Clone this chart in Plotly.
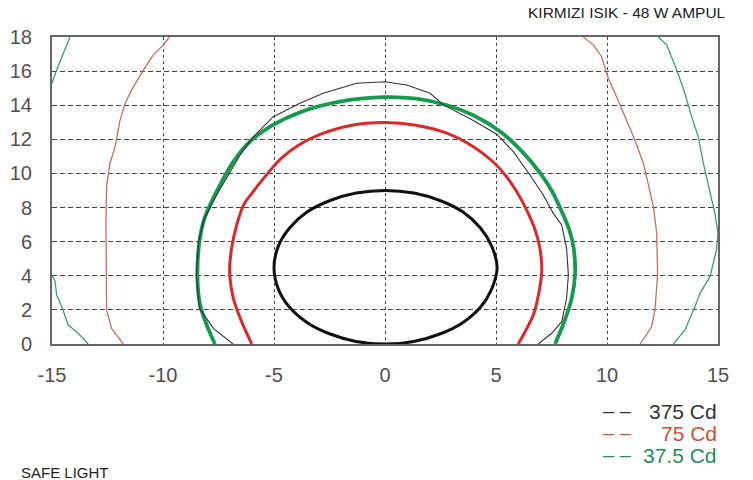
import plotly.graph_objects as go

# ---- data ----
x_ticks = [-15, -10, -5, 0, 5, 10, 15]
y_ticks = [0, 2, 4, 6, 8, 10, 12, 14, 16, 18]

# thick 375 Cd (black ellipse)
b375_x = [0, -1.3, -2.5, -3.5, -4.3, -4.8, -5.0, -4.8, -4.3, -3.5, -2.5, -1.3, 0,
          1.3, 2.5, 3.5, 4.3, 4.8, 5.05, 4.8, 4.3, 3.5, 2.5, 1.3, 0]
b375_y = [9.0, 8.85, 8.4, 7.75, 6.8, 5.75, 4.5, 3.2, 2.15, 1.25, 0.6, 0.15, 0,
          0.15, 0.6, 1.25, 2.15, 3.2, 4.5, 5.75, 6.8, 7.75, 8.4, 8.85, 9.0]

# thick 75 Cd (red)
r75_x = [-6.0, -6.46, -6.83, -7.0, -6.91, -6.68, -6.35, -5.9, -5.35, -4.7, -3.9, -2.9, -1.6, 0,
         1.4, 2.78, 3.98, 4.85, 5.45, 5.95, 6.4, 6.76, 6.98, 7.06, 6.91, 6.68, 6.31, 6.0]
r75_y = [0, 1.31, 2.68, 4.24, 5.61, 6.98, 8.2, 9.0, 9.9, 10.85, 11.65, 12.3, 12.8, 12.98,
         12.82, 12.36, 11.57, 10.7, 9.85, 8.9, 7.8, 6.7, 5.6, 4.24, 2.87, 1.7, 0.72, 0]

# thick 37.5 Cd (green)
g37_x = [-7.66, -8.03, -8.33, -8.45, -8.36, -8.18, -7.9, -7.43, -6.83, -6.1, -5.1, -3.7, -2.1, 0,
         1.4, 2.8, 4.0, 5.2, 6.2, 7.0, 7.55, 7.95, 8.3, 8.5, 8.56, 8.41, 8.18, 7.96, 7.66]
g37_y = [0, 1.11, 2.29, 4.05, 6.0, 7.17, 8.1, 9.33, 10.69, 11.85, 12.8, 13.65, 14.2, 14.47,
         14.38, 14.0, 13.4, 12.45, 11.25, 10.0, 8.9, 7.8, 6.7, 5.6, 4.05, 2.68, 1.7, 0.92, 0]

# thin 375 Cd (black)
tb375_x = [-6.85, -7.73, -8.36, -8.5, -8.4, -8.15, -7.58, -7.06, -6.53, -5.93, -5.03, -3.83, -2.78, -1.28, 0,
           0.98, 2.03, 2.63, 3.98, 5.03, 5.78, 6.53, 7.13, 7.58, 7.96, 8.18, 8.26, 8.18, 7.96, 7.51, 6.9]
tb375_y = [0, 0.92, 2.09, 4.0, 6.0, 7.3, 8.74, 9.91, 11.08, 12.16, 13.33, 14.12, 14.7, 15.29, 15.38,
           15.19, 14.7, 14.02, 13.1, 12.3, 11.28, 9.91, 8.74, 7.66, 6.98, 5.61, 4.05, 2.68, 1.31, 0.63, 0]

# thin 75 Cd (red-brown), left and right branches
tr75_x = [-9.71, -9.98, -10.43, -10.88, -11.41, -11.71, -11.94, -12.16, -12.39, -12.54, -12.57, -12.57, -12.54, -12.32, -11.79,
          None,
          8.93, 9.38, 9.75, 10.06, 10.43, 10.81, 11.19, 11.64, 11.86, 12.09, 12.24, 12.28, 12.16, 12.01, 11.49]
tr75_y = [18, 17.54, 16.95, 16.07, 14.9, 14.1, 13.1, 11.57, 10.6, 9.23, 7.27, 4.5, 1.99, 0.92, 0,
          None,
          18, 17.54, 16.86, 15.58, 14.5, 13.33, 12.16, 10.6, 9.43, 8.05, 6.49, 4.05, 1.99, 1.01, 0]

# thin 37.5 Cd (green), three pieces
tg37_x = [-14.19, -14.56, -14.79, -15.0,
          None,
          -15.0, -14.86, -14.79, -14.56, -14.27, -13.82, -13.37,
          None,
          12.31, 12.69, 13.14, 13.51, 13.81, 14.11, 14.34, 14.64, 14.86, 15.0, 14.93, 14.64, 14.19, 13.96, 13.51, 12.99]
tg37_y = [18, 16.86, 16.07, 15.29,
          None,
          4.05, 3.65, 2.87, 2.19, 1.11, 0.63, 0,
          None,
          18, 17.54, 16.07, 14.7, 13.33, 12.16, 10.6, 8.84, 7.66, 6.49, 5.51, 3.95, 2.97, 2.19, 0.82, 0]

legend_labels = ["375 Cd", "75 Cd", "37.5 Cd"]
legend_colors = ["#333333", "#c8503c", "#2a8a5a"]

FONT = "Liberation Sans, Arial, Helvetica, sans-serif"

fig = go.Figure()
fig.add_trace(go.Scatter(x=tr75_x, y=tr75_y, mode="lines", line=dict(color="#b9735f", width=1.3), connectgaps=False))
fig.add_trace(go.Scatter(x=tg37_x, y=tg37_y, mode="lines", line=dict(color="#3e9a74", width=1.3), connectgaps=False))
fig.add_trace(go.Scatter(x=g37_x, y=g37_y, mode="lines", line=dict(color="#17994f", width=3.8, shape="spline", smoothing=0.8)))
fig.add_trace(go.Scatter(x=tb375_x, y=tb375_y, mode="lines", line=dict(color="#333333", width=1.1)))
fig.add_trace(go.Scatter(x=r75_x, y=r75_y, mode="lines", line=dict(color="#d82a2a", width=3, shape="spline", smoothing=0.8)))
fig.add_trace(go.Scatter(x=b375_x, y=b375_y, mode="lines", line=dict(color="#111111", width=3, shape="spline", smoothing=1)))

fig.update_layout(
    width=753, height=480,
    margin=dict(l=52, r=35, t=37, b=136, autoexpand=False),
    paper_bgcolor="white", plot_bgcolor="white",
    showlegend=False,
    font=dict(family=FONT, color="#444444"),
)
fig.update_xaxes(
    range=[-15, 15], tickvals=x_ticks, ticktext=[str(v) for v in x_ticks],
    showgrid=True, gridcolor="#444444", gridwidth=1, griddash="dot",
    zeroline=False, showline=True, linecolor="#666666", linewidth=2, mirror=True,
    ticks="", tickfont=dict(size=20, color="#505050"), ticklabelstandoff=12,
)
fig.update_yaxes(
    range=[0, 18], tickvals=y_ticks, ticktext=[str(v) for v in y_ticks],
    showgrid=True, gridcolor="#444444", gridwidth=1, griddash="5px,3px",
    zeroline=False, showline=True, linecolor="#666666", linewidth=2, mirror=True,
    ticks="", tickfont=dict(size=20, color="#505050"), ticklabelstandoff=14,
)

fig.add_annotation(text="KIRMIZI ISIK - 48 W AMPUL", xref="paper", yref="paper",
                   x=(728 - 52) / 666, y=1 + (37 - 13) / 307, xanchor="right", yanchor="middle",
                   showarrow=False, font=dict(size=15.5, color="#222222", family=FONT))
fig.add_annotation(text="SAFE LIGHT", xref="paper", yref="paper",
                   x=(19 - 52) / 666, y=-(472 - 344) / 307, xanchor="left", yanchor="middle",
                   showarrow=False, font=dict(size=15, color="#222222", family=FONT))

legend_y = [411.5, 433, 455]
for lab, col, py in zip(legend_labels, legend_colors, legend_y):
    fig.add_annotation(text="– –", xref="paper", yref="paper",
                       x=(601 - 52) / 666, y=-(py - 344) / 307, xanchor="left", yanchor="middle",
                       showarrow=False, font=dict(size=20, color=col, family=FONT))
    fig.add_annotation(text=lab, xref="paper", yref="paper",
                       x=(719 - 52) / 666, y=-(py - 344) / 307, xanchor="right", yanchor="middle",
                       showarrow=False, font=dict(size=21, color=col, family=FONT))

fig.write_html("out.html", config={"displayModeBar": False},
               post_script="document.body.style.margin='0';document.body.style.padding='0';")
